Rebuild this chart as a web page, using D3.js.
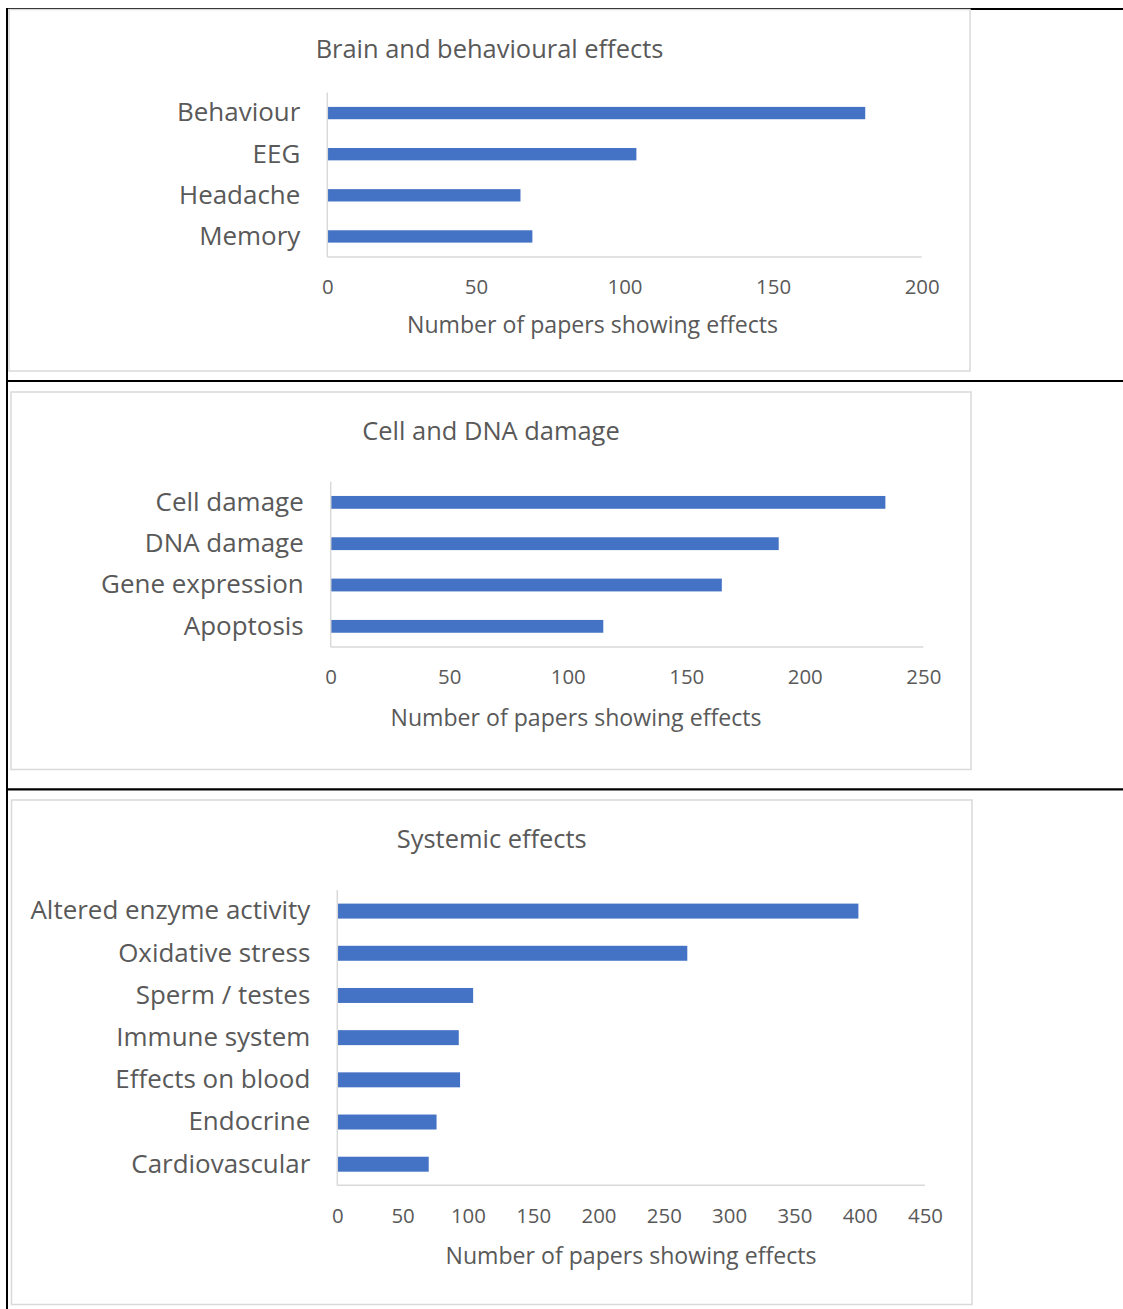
<!DOCTYPE html>
<html>
<head>
<meta charset="utf-8">
<script src="https://cdn.jsdelivr.net/npm/d3@7"></script>
<style>
  html, body { margin: 0; padding: 0; background: #fff; }
  svg { display: block; }
</style>
</head>
<body>
<svg id="chart" width="1123" height="1309"></svg>
<script>
// ---------- DATA ----------
const brainTitle = "Brain and behavioural effects";
const brainCategories = ["Behaviour", "EEG", "Headache", "Memory"];
const brainValues = [181, 104, 65, 69];
const brainTicks = [0, 50, 100, 150, 200];

const cellTitle = "Cell and DNA damage";
const cellCategories = ["Cell damage", "DNA damage", "Gene expression", "Apoptosis"];
const cellValues = [234, 189, 165, 115];
const cellTicks = [0, 50, 100, 150, 200, 250];

const systemicTitle = "Systemic effects";
const systemicCategories = ["Altered enzyme activity", "Oxidative stress", "Sperm / testes",
  "Immune system", "Effects on blood", "Endocrine", "Cardiovascular"];
const systemicValues = [399, 268, 104, 93, 94, 76, 70];
const systemicTicks = [0, 50, 100, 150, 200, 250, 300, 350, 400, 450];

const axisTitleText = "Number of papers showing effects";

// ---------- LAYOUT ----------
const FONT = "'Open Sans', 'Noto Sans', sans-serif";
const TEXT = "#595959";
const GRID = "#d9d9d9";
const BAR = "#4472C4";

const svg = d3.select("#chart");
svg.append("rect").attr("width", 1123).attr("height", 1309).attr("fill", "#fff");

function fit(str, target) {
  const t = svg.append("text").style("font-family", FONT).style("font-size", "100px").text(str);
  const w = t.node().getComputedTextLength();
  t.remove();
  return 100 * target / w;
}
const fsCat = fit("Altered enzyme activity", 280);
const fsTick = fit("100", 35);
const fsTitle = fit("Brain and behavioural effects", 348);
const fsAxis = fit("Number of papers showing effects", 371);

const panels = [
  { title: brainTitle, cats: brainCategories, vals: brainValues, ticks: brainTicks,
    box: [9, 9.5, 961, 361.5], x0: 327.3, x1: 921.7, yTop: 92.5, yBot: 257, pad: 0.7,
    titleY: 49, axTitleX: 592.5, axTitleY: 325 },
  { title: cellTitle, cats: cellCategories, vals: cellValues, ticks: cellTicks,
    box: [11, 392, 960, 377.5], x0: 330.7, x1: 923.3, yTop: 481.7, yBot: 647, pad: 0.69,
    titleY: 431, axTitleX: 576, axTitleY: 718 },
  { title: systemicTitle, cats: systemicCategories, vals: systemicValues, ticks: systemicTicks,
    box: [11.5, 800, 960.5, 504.5], x0: 337.3, x1: 925, yTop: 890, yBot: 1185.3, pad: 0.645,
    titleY: 839, axTitleX: 631, axTitleY: 1256 }
];

// table lines (black)
const lines = svg.append("g").attr("stroke", "#000").attr("fill", "none");
lines.append("line").attr("x1", 6).attr("x2", 970).attr("y1", 8.5).attr("y2", 8.5).attr("stroke-width", 1.2);
lines.append("line").attr("x1", 970).attr("x2", 1123).attr("y1", 9).attr("y2", 9).attr("stroke-width", 2);
lines.append("line").attr("x1", 7).attr("x2", 7).attr("y1", 8).attr("y2", 1309).attr("stroke-width", 2);
lines.append("line").attr("x1", 6).attr("x2", 1123).attr("y1", 381).attr("y2", 381).attr("stroke-width", 2.2);
lines.append("line").attr("x1", 6).attr("x2", 1123).attr("y1", 789.3).attr("y2", 789.3).attr("stroke-width", 2.2);

panels.forEach(p => {
  const g = svg.append("g");
  const [bx, by, bw, bh] = p.box;
  g.append("rect").attr("x", bx).attr("y", by).attr("width", bw).attr("height", bh)
    .attr("fill", "#fff").attr("stroke", GRID).attr("stroke-width", 1.5);

  const x = d3.scaleLinear().domain([p.ticks[0], p.ticks[p.ticks.length - 1]]).range([p.x0, p.x1]);
  const y = d3.scaleBand().domain(p.cats).range([p.yTop, p.yBot])
    .paddingInner(p.pad).paddingOuter(p.pad / 2);

  // title
  g.append("text").attr("x", bx + bw / 2).attr("y", p.titleY).attr("dy", "0.36em")
    .attr("text-anchor", "middle").style("font-family", FONT).style("font-size", fsTitle + "px")
    .attr("fill", TEXT).text(p.title);

  // bars
  g.selectAll("rect.bar").data(p.cats.map((c, i) => ({ c, v: p.vals[i] }))).join("rect")
    .attr("class", "bar").attr("x", x(0)).attr("y", d => y(d.c))
    .attr("width", d => x(d.v) - x(0)).attr("height", y.bandwidth()).attr("fill", BAR);

  // axis lines
  g.append("line").attr("x1", p.x0).attr("x2", p.x0).attr("y1", p.yTop).attr("y2", p.yBot)
    .attr("stroke", GRID).attr("stroke-width", 1.5);
  g.append("line").attr("x1", p.x0).attr("x2", p.x1).attr("y1", p.yBot).attr("y2", p.yBot)
    .attr("stroke", GRID).attr("stroke-width", 1.5);

  // bottom axis labels
  const xa = g.append("g").attr("transform", `translate(0,${p.yBot})`)
    .call(d3.axisBottom(x).tickValues(p.ticks).tickSize(0).tickPadding(23).tickFormat(d3.format("d")));
  xa.select(".domain").remove();
  xa.selectAll("text").style("font-family", FONT).style("font-size", fsTick + "px").attr("fill", TEXT);

  // left axis labels
  const ya = g.append("g").attr("transform", `translate(${p.x0},0)`)
    .call(d3.axisLeft(y).tickSize(0).tickPadding(27));
  ya.select(".domain").remove();
  ya.selectAll("text").style("font-family", FONT).style("font-size", fsCat + "px").attr("fill", TEXT);

  // axis title
  g.append("text").attr("x", p.axTitleX).attr("y", p.axTitleY).attr("dy", "0.36em")
    .attr("text-anchor", "middle").style("font-family", FONT).style("font-size", fsAxis + "px")
    .attr("fill", TEXT).text(axisTitleText);
});
</script>
</body>
</html>
